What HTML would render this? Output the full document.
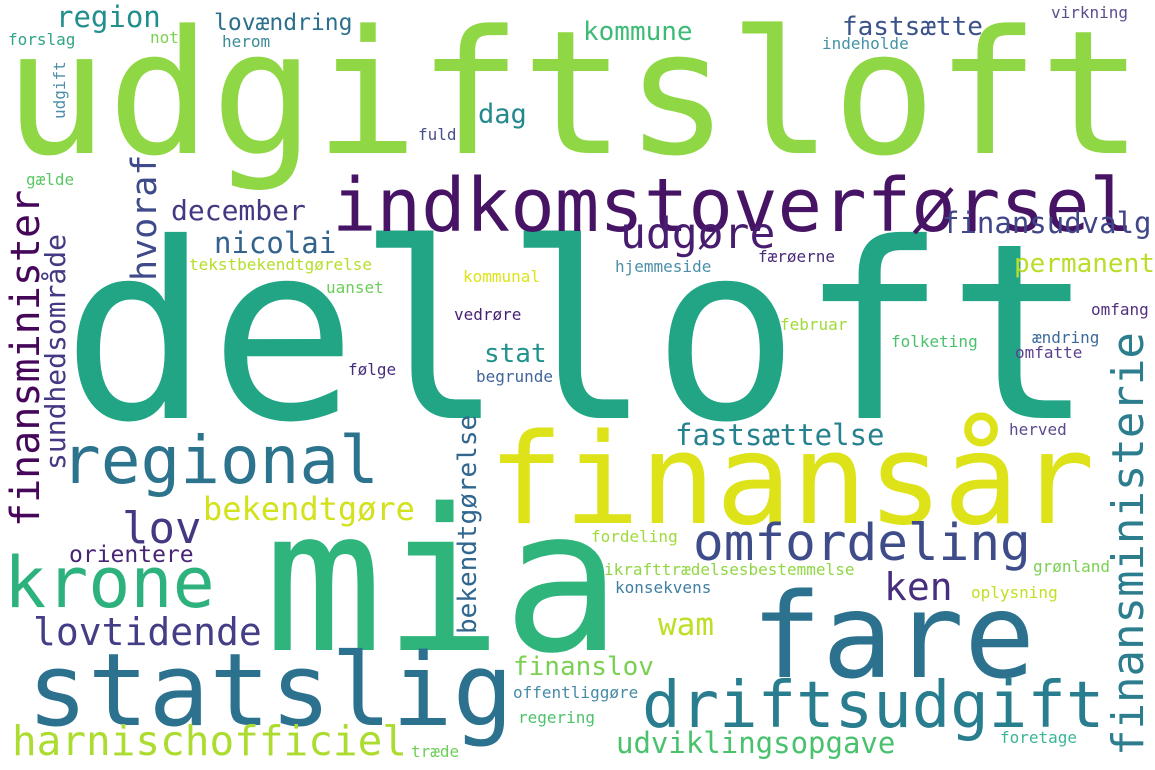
<!DOCTYPE html>
<html><head><meta charset="utf-8">
<style>
html,body{margin:0;padding:0;background:#fff;}
svg{display:block;}
text{font-family:"DejaVu Sans Mono","Liberation Mono",monospace;}
</style></head>
<body>
<svg id="cloud" width="1155" height="770" viewBox="0 0 1155 770" xmlns="http://www.w3.org/2000/svg">
<rect width="1155" height="770" fill="#ffffff"/>
</svg>
<script>
// words and their weights (font size ~ frequency)
const words = ["udgiftsloft","delloft","indkomstoverførsel","finansår","mia","fare","statslig","regional","krone","driftsudgift","omfordeling",
"harnischofficiel","lovtidende","udgøre","bekendtgøre","lov","ken","region","finansudvalg","fastsættelse","udviklingsopgave","wam","dag","stat",
"december","nicolai","permanent","fastsætte","kommune","finanslov","lovændring","orientere",
"forslag","not","herom","gælde","fuld","tekstbekendtgørelse","uanset","kommunal","vedrøre","følge","begrunde","indeholde","virkning",
"hjemmeside","færøerne","omfang","februar","folketing","ændring","omfatte","herved","fordeling","ikrafttrædelsesbestemmelse","grønland",
"konsekvens","oplysning","offentliggøre","regering","foretage","træde",
"finansministerie","finansminister","sundhedsområde","hvoraf","udgift","bekendtgørelse"];
const weights = [172,245,74,126,198,118,101,66,70,64,51,
41,38,43,32,44,38,29,29,29,29,31,27,26,
28,29,26,26,26,26,23,23,
16,16,16,16,16,16,16,16,16,16,16,16,16,
16,16,16,16,16,16,16,16,16,16,16,
16,16,16,16,16,16,
44,40,28,35,16,26];
// layout (not data): x, baseline y, colour, rotated
const layoutX = [4,62,332,488,264,751,27,61,4,642,693,
12,33,620,203,122,884,56,942,675,616,658,478,484,
171,214,1014,842,583,513,214,69,
8,150,222,26,418,189,326,463,454,348,476,822,1051,
615,758,1091,780,891,1032,1015,1009,591,604,1033,
615,971,513,518,1000,411,
1143,39,65,156,65,476];
const layoutY = [153,418,231,523,650,677,725,483,607,727,560,
755,645,248,520,543,600,27,233,445,753,635,123,362,
220,253,272,35,40,675,30,562,
45,43,47,185,140,270,293,282,320,375,382,49,18,
272,262,315,330,347,343,358,435,542,575,572,
593,598,698,723,743,757,
756,527,470,281,119,634];
const colors = ["#8fd744","#21a585","#471365","#dde318","#2fb47c","#2c728e","#2c728e","#2c738e","#2db27d","#287d8e","#3e4c8a",
"#addc30","#433e85","#481d6f","#d2e21b","#453882","#472f7d","#21908d","#404688","#26828e","#4ac16d","#bddf26","#23898e","#22908c",
"#453781","#33638d","#b8de29","#3b528b","#3bbb75","#7ad151","#2d708e","#482475",
"#31a386","#7ad151","#3d8a99","#5ac864","#46508a","#b5de2b","#6ccd5a","#dde318","#482173","#472d7b","#40649b","#4393a6","#5d4c8e",
"#4c8fa8","#4b2a7a","#53307e","#a0da39","#4ac16d","#3d6a9a","#5c3f8f","#5c4a8e","#9fda3a","#90d743","#7ad151",
"#3f7fa3","#c2df23","#468aa5","#4cc26c","#3cb497","#6ece58",
"#2c7e8e","#46075a","#443a83","#3e4a89","#4d8fa8","#31668e"];
const rotated = [0,0,0,0,0,0,0,0,0,0,0, 0,0,0,0,0,0,0,0,0,0,0,0,0, 0,0,0,0,0,0,0,0,
0,0,0,0,0,0,0,0,0,0,0,0,0, 0,0,0,0,0,0,0,0,0,0,0, 0,0,0,0,0,0, 1,1,1,1,1,1];

const svg = document.getElementById('cloud');
const NS = "http://www.w3.org/2000/svg";
for (let i = 0; i < words.length; i++) {
  const t = document.createElementNS(NS, 'text');
  
  
  t.setAttribute('font-size', weights[i]);
  t.setAttribute('fill', colors[i]);
  if (rotated[i]) {
    t.setAttribute('x', 0);
    t.setAttribute('y', 0);
    t.setAttribute('transform', 'translate(' + layoutX[i] + ',' + layoutY[i] + ') rotate(-90)');
  } else {
    t.setAttribute('x', layoutX[i]);
    t.setAttribute('y', layoutY[i]);
  }
  t.textContent = words[i];
  svg.appendChild(t);
}
</script>
</body></html>
